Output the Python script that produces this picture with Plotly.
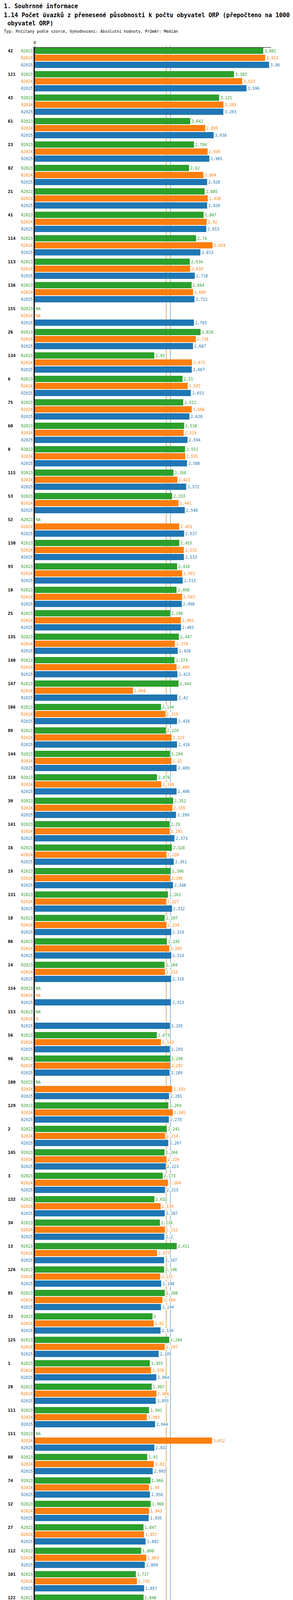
import plotly.graph_objects as go

# ORP codes in the order shown (sorted by R2025 descending)
orp = ["42", "121", "43", "61", "23", "82", "21", "41", "114", "113",
       "136", "155", "26", "134", "6", "75", "60", "8", "115", "53",
       "52", "130", "93", "10", "25", "135", "140", "147", "106", "89",
       "144", "118", "39", "141", "16", "19", "131", "18", "86", "14",
       "154", "153", "56", "96", "100", "129", "2", "145", "3", "132",
       "34", "13", "126", "85", "33", "125", "1", "28", "111", "151",
       "88", "74", "12", "27", "112", "101", "122", "139", "102", "58",
       "146", "67", "90", "5", "68", "50", "138", "9", "69", "51",
       "152", "7", "84", "76", "15"]

r2023 = [3.881, 3.383, 3.131, 2.641, 2.704, 2.62, 2.885, 2.867, 2.74, 2.634,
         2.664, None, 2.816, 2.03, 2.51, 2.522, 2.538, 2.552, 2.356, 2.333,
         None, 2.455, 2.418, 2.408, 2.298, 2.447, 2.373, 2.442, 2.144, 2.224,
         2.294, 2.076, 2.352, 2.29, 2.328, 2.306, 2.262, 2.207, 2.243, 2.204,
         None, None, 2.073, 2.299, None, 2.269, 2.241, 2.204, 2.173, 2.032,
         2.126, 2.411, 2.196, 2.208, 2.0, 2.284, 1.955, 1.987, 1.941, None,
         1.91, 1.966, 1.968, 1.847, 1.808, 1.717, 1.848, 1.636, 1.759, 1.7,
         1.755, None, 1.752, 1.676, None, 1.533, 1.894, 1.338, None, 1.209,
         None, 1.005, None, 1.903, 2.074]

r2024 = [3.913, 3.523, 3.205, 2.895, 2.936, 2.864, 2.938, 2.92, 3.019, 2.639,
         2.689, None, 2.736, 2.671, 2.597, 2.666, 2.529, 2.555, 2.423, 2.441,
         2.453, 2.532, 2.503, 2.503, 2.481, 2.379, 2.409, 1.668, 2.219, 2.323,
         2.32, 2.149, 2.339, 2.291, 2.228, 2.296, 2.227, 2.234, 2.285, 2.212,
         None, 0.0, 2.143, 2.297, 2.333, 2.345, 2.214, 2.234, 2.264, 2.139,
         2.212, 2.077, 2.131, 2.169, 2.02, 2.207, 1.976, 2.066, 1.903, 3.012,
         2.021, 1.94, 1.943, 1.857, 1.893, 1.735, 1.824, 1.748, 1.738, 1.711,
         1.739, None, 1.715, 1.651, None, 1.545, 1.769, 1.334, None, 1.261,
         1.59, 1.004, 2.535, None, None]

r2025 = [3.98, 3.596, 3.203, 3.038, 2.965, 2.928, 2.928, 2.913, 2.813, 2.718,
         2.712, 2.703, 2.687, 2.667, 2.651, 2.628, 2.594, 2.586, 2.572, 2.548,
         2.537, 2.533, 2.513, 2.498, 2.483, 2.428, 2.423, 2.42, 2.416, 2.416,
         2.409, 2.408, 2.399, 2.373, 2.361, 2.348, 2.332, 2.319, 2.319, 2.316,
         2.313, 2.295, 2.293, 2.289, 2.281, 2.278, 2.267, 2.223, 2.213, 2.207,
         2.2, 2.197, 2.148, 2.144, 2.136, 2.105, 2.064, 2.055, 2.044, 2.032,
         2.003, 1.956, 1.935, 1.882, 1.869, 1.857, 1.814, 1.798, 1.77, 1.768,
         1.736, 1.691, 1.616, 1.61, 1.575, 1.546, 1.527, 1.385, 1.29, 1.288,
         1.227, 1.01, None, None, None]

periods = ["R2023", "R2024", "R2025"]
period_names = ["Období[R2023]: Realita - 2023", "Období[R2024]: Realita - 2024",
                "Období[R2025]: Realita - 2025"]
medians = [2.232, 2.234, 2.304]
mins = [1.005, 0, 1.01]
maxs = [3.881, 3.913, 3.98]

colors = ["#2ca02c", "#ff7f0e", "#1f77b4"]
FONT = "DejaVu Sans Mono"

# pixel geometry of the page
W, H = 750, 5334
PL, PT, PR, PB = 81, 114, 686, 5214
PW, PH = PR - PL, PB - PT


def px_x(px):
    return (px - PL) / PW


def px_y(py):
    return (PB - py) / PH


def fmt(v):
    if v is None:
        return "NA"
    return f"{v:g}".replace(".", ",")


series = [r2023, r2024, r2025]
GROUP, STEP = 60, 18

fig = go.Figure()
tickvals, ticktext = [], []
for s, vals in enumerate(series):
    ys = [i * GROUP + s * STEP for i in range(len(orp))]
    fig.add_trace(go.Bar(
        x=[v if v is not None else 0 for v in vals],
        y=ys,
        orientation="h",
        width=16,
        marker=dict(color=colors[s], line=dict(width=0)),
        name=periods[s],
        showlegend=False,
        hoverinfo="skip",
    ))
    for y, v in zip(ys, vals):
        tickvals.append(y)
        ticktext.append(f'<span style="color:{colors[s]}">{periods[s]}</span>')
        # value label with white box so the median lines stop behind it
        fig.add_annotation(text=fmt(v), x=v if v is not None else 0, y=y,
                           xref="x", yref="y", xanchor="left", yanchor="middle",
                           xshift=2, showarrow=False, bgcolor="white", borderpad=0,
                           font=dict(family=FONT, size=10, color=colors[s]))

# median lines
for s in range(3):
    fig.add_shape(type="line", xref="x", yref="paper", x0=medians[s], x1=medians[s],
                  y0=0, y1=1 + 5 / PH, layer="below",
                  line=dict(color=colors[s], width=1))

# little stub of the top axis left of zero
fig.add_shape(type="line", xref="paper", yref="paper", x0=px_x(76), x1=0, y0=1, y1=1,
              line=dict(color="black", width=1))

# group labels
for i, name in enumerate(orp):
    fig.add_annotation(text=f"<b>{name}</b>", x=px_x(10), xref="paper", y=i * GROUP,
                       yref="y", xanchor="left", showarrow=False,
                       font=dict(family=FONT, size=11, color="black"))

# titles
titles = [("<b>1. Souhrnné informace</b>", 0, 8, 15),
          ("<b>1.14 Počet úvazků z přenesené působnosti k počtu obyvatel ORP (přepočteno na 1000</b>", 0, 31, 15),
          ("<b> obyvatel ORP)</b>", 0, 52, 15),
          ("Typ: Počítaný podle vzorce, Vyhodnocení: Absolutní hodnoty, Průměr: Medián", 0, 73, 10)]
for txt, x, y, size in titles:
    fig.add_annotation(text=txt, x=px_x(x), xref="paper", y=px_y(y), yref="paper",
                       xanchor="left", yanchor="middle", showarrow=False,
                       font=dict(family=FONT, size=size, color="black"))

# legend block under the chart
legend_pos = [(80, 5236), (383, 5236), (80, 5256)]
for s in range(3):
    fig.add_annotation(text=period_names[s], x=px_x(legend_pos[s][0]), xref="paper",
                       y=px_y(legend_pos[s][1]), yref="paper", xanchor="left",
                       yanchor="middle", showarrow=False,
                       font=dict(family=FONT, size=10, color=colors[s]))
    row_y = 5276 + 20 * s
    for label, val, x in [("Medián", medians[s], 80), ("Min", mins[s], 333), ("Max", maxs[s], 535)]:
        fig.add_annotation(text=f"{label}: {fmt(val)}", x=px_x(x), xref="paper",
                           y=px_y(row_y), yref="paper", xanchor="left", yanchor="middle",
                           showarrow=False, font=dict(family=FONT, size=10, color=colors[s]))

last = (len(orp) - 1) * GROUP + 2 * STEP
fig.update_layout(
    width=W, height=H,
    margin=dict(l=PL, r=W - PR, t=PT, b=H - PB, pad=0),
    plot_bgcolor="white", paper_bgcolor="white",
    barmode="overlay",
    font=dict(family=FONT, size=10, color="black"),
    xaxis=dict(range=[0, PW / 150.7], side="top", tickvals=[0], ticktext=["0"],
               showline=True, linecolor="black", linewidth=1, ticks="outside",
               ticklen=4, tickcolor="black", showgrid=False, zeroline=False,
               tickfont=dict(family=FONT, size=10), automargin=False),
    yaxis=dict(range=[last + 16, -8], tickvals=tickvals, ticktext=ticktext,
               showline=True, linecolor="black", linewidth=3, ticks="",
               showgrid=False, zeroline=False, tickfont=dict(family=FONT, size=10),
               automargin=False),
)

fig.write_html("out.html", config={"responsive": False})
